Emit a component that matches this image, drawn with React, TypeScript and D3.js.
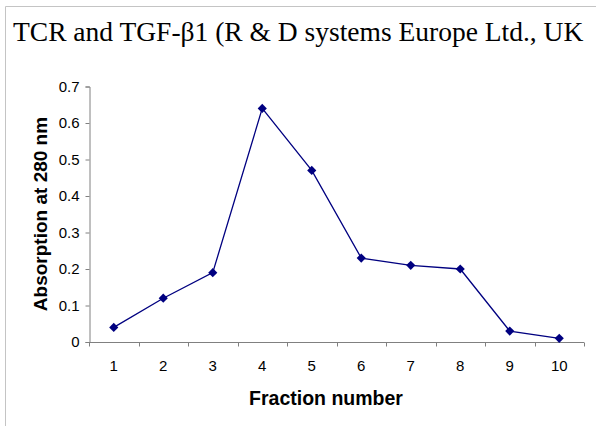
import React, {useEffect, useRef} from "react";
import * as d3 from "d3";

const fractions = ["1", "2", "3", "4", "5", "6", "7", "8", "9", "10"];
const absorption = [0.04, 0.12, 0.19, 0.64, 0.47, 0.23, 0.21, 0.2, 0.03, 0.01];
const yTicks = [0, 0.1, 0.2, 0.3, 0.4, 0.5, 0.6, 0.7];

const W = 596;
const H = 426;

const App = () => {
    const svgRef = useRef(null);

    useEffect(() => {
        const svg = d3.select(svgRef.current);
        svg.selectAll("*").remove();

        const x = d3.scaleBand().domain(fractions).range([89, 584]);
        const y = d3.scaleLinear().domain([0, 0.7]).range([342, 86.5]);

        // frame lines (top + left only, like the cropped original)
        svg.append("line").attr("x1", 5.5).attr("x2", W).attr("y1", 6.5).attr("y2", 6.5)
            .attr("stroke", "#c4c4c4");
        svg.append("line").attr("x1", 5.5).attr("x2", 5.5).attr("y1", 6.5).attr("y2", H)
            .attr("stroke", "#c4c4c4");

        svg.append("text")
            .attr("x", 13).attr("y", 41)
            .attr("font-family", "'Liberation Serif', 'Times New Roman', serif")
            .attr("font-size", 27.5)
            .attr("fill", "#000")
            .text("TCR and TGF-β1 (R & D systems Europe Ltd., UK");

        // y axis
        const yAxis = d3.axisLeft(y).tickValues(yTicks).tickSize(4).tickPadding(6)
            .tickFormat(d => (d === 0 ? "0" : d3.format(".1f")(d as number)));
        const gy = svg.append("g").attr("transform", "translate(89.5,0)").call(yAxis);
        gy.select(".domain").attr("stroke", "#808080");
        gy.selectAll(".tick line").attr("stroke", "#808080");
        gy.selectAll(".tick text").attr("font-family", "Arial, 'Liberation Sans', sans-serif")
            .attr("font-size", 15).attr("fill", "#000");

        // x axis: ticks on category boundaries, labels at centres
        const gx = svg.append("g").attr("transform", "translate(0,342.5)");
        gx.append("line").attr("x1", x.range()[0]).attr("x2", x.range()[1])
            .attr("stroke", "#808080");
        const bounds = d3.range(fractions.length + 1).map(i => x.range()[0] + i * x.step());
        gx.selectAll(".xt").data(bounds).join("line").attr("class", "xt")
            .attr("x1", d => Math.round(d) + 0.5).attr("x2", d => Math.round(d) + 0.5)
            .attr("y1", 0).attr("y2", 4).attr("stroke", "#808080");
        gx.selectAll(".xl").data(fractions).join("text").attr("class", "xl")
            .attr("x", d => (x(d) as number) + x.bandwidth() / 2)
            .attr("y", 28.5)
            .attr("text-anchor", "middle")
            .attr("font-family", "Arial, 'Liberation Sans', sans-serif")
            .attr("font-size", 15)
            .text(d => d);

        svg.append("text")
            .attr("x", 326).attr("y", 405)
            .attr("text-anchor", "middle")
            .attr("font-family", "Arial, 'Liberation Sans', sans-serif")
            .attr("font-size", 19.5).attr("font-weight", "bold")
            .text("Fraction number");

        svg.append("text")
            .attr("transform", "translate(47,214) rotate(-90)")
            .attr("text-anchor", "middle")
            .attr("font-family", "Arial, 'Liberation Sans', sans-serif")
            .attr("font-size", 19).attr("font-weight", "bold")
            .text("Absorption at 280 nm");

        const cx = (i: number) => (x(fractions[i]) as number) + x.bandwidth() / 2;

        const line = d3.line<number>()
            .x((v, i) => cx(i))
            .y(v => y(v));

        svg.append("path")
            .datum(absorption)
            .attr("d", line)
            .attr("fill", "none")
            .attr("stroke", "#000080")
            .attr("stroke-width", 1.3);

        const marker = d3.symbol().type(d3.symbolSquare).size(42);
        svg.selectAll(".pt").data(absorption).join("path").attr("class", "pt")
            .attr("d", marker)
            .attr("transform", (v, i) => `translate(${cx(i)},${y(v)}) rotate(45)`)
            .attr("fill", "#000080");
    }, []);

    return (
        <div>
            <svg ref={svgRef} width={W} height={H}
                 style={{position: "absolute", left: 0, top: 0, background: "#fff"}}/>
        </div>
    );
};

export default App;
